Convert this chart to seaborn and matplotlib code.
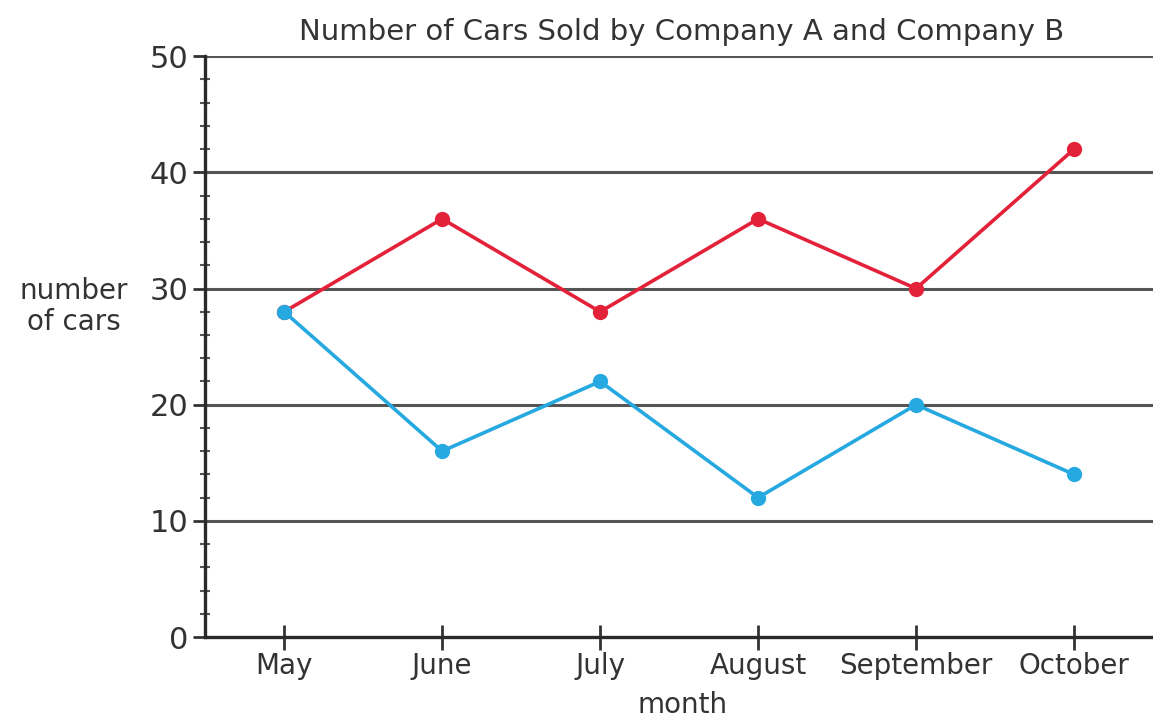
import pandas as pd
import seaborn as sns
import matplotlib.pyplot as plt
from matplotlib.ticker import MultipleLocator

# 데이터
months = ["May", "June", "July", "August", "September", "October"]
company_a = [28, 36, 28, 36, 30, 42]
company_b = [28, 16, 22, 12, 20, 14]

df = pd.DataFrame({
    "month": months * 2,
    "cars": company_a + company_b,
    "company": ["A"] * 6 + ["B"] * 6,
})
df["pos"] = list(range(6)) * 2

sns.set_style("white")
plt.rcParams["font.family"] = ["DejaVu Sans"]

fig = plt.figure(figsize=(11.53, 7.21), dpi=100)
ax = fig.add_axes([0.178, 0.1165, 0.822, 0.8055])

# 가로 격자선
for v in [10, 20, 30, 40, 50]:
    ax.axhline(v, color="#555555", lw=2.2, zorder=1)

sns.lineplot(data=df, x="pos", y="cars", hue="company",
             palette={"A": "#e3223a", "B": "#25a9e0"},
             marker="o", markersize=11, markeredgewidth=0,
             lw=2.6, legend=False, ax=ax, zorder=3)

ax.set_xlim(-0.5, 5.5)
ax.set_ylim(0, 50)
ax.set_xticks(range(6))
ax.set_xticklabels(months)
ax.set_yticks([0, 10, 20, 30, 40, 50])
ax.yaxis.set_minor_locator(MultipleLocator(2))

ax.tick_params(axis="y", which="both", left=True)
ax.tick_params(axis="x", which="both", bottom=True)
ax.tick_params(axis="y", which="major", direction="out", length=9, width=2,
               colors="#333333", labelsize=22, pad=3)
ax.tick_params(axis="y", which="minor", direction="inout", length=7, width=1.5,
               colors="#555555")
ax.tick_params(axis="x", which="major", direction="inout", length=18, width=2,
               colors="#333333", labelsize=20, pad=2)
for lab in ax.get_xticklabels() + ax.get_yticklabels():
    lab.set_color("#333333")

for s in ["top", "right"]:
    ax.spines[s].set_visible(False)
for s in ["left", "bottom"]:
    ax.spines[s].set_color("#2a2a2a")
    ax.spines[s].set_linewidth(2.4)

ax.set_xlabel("")
ax.set_ylabel("")
fig.text(0.064, 0.575, "number\nof cars", ha="center", va="center",
         fontsize=20, color="#333333", linespacing=1.1)
fig.text(0.592, 0.022, "month", ha="center", va="center",
         fontsize=20, color="#333333")
fig.text(0.5915, 0.955, "Number of Cars Sold by Company A and Company B",
         ha="center", va="center", fontsize=21, color="#333333")

fig.savefig("out.png", dpi=100)
